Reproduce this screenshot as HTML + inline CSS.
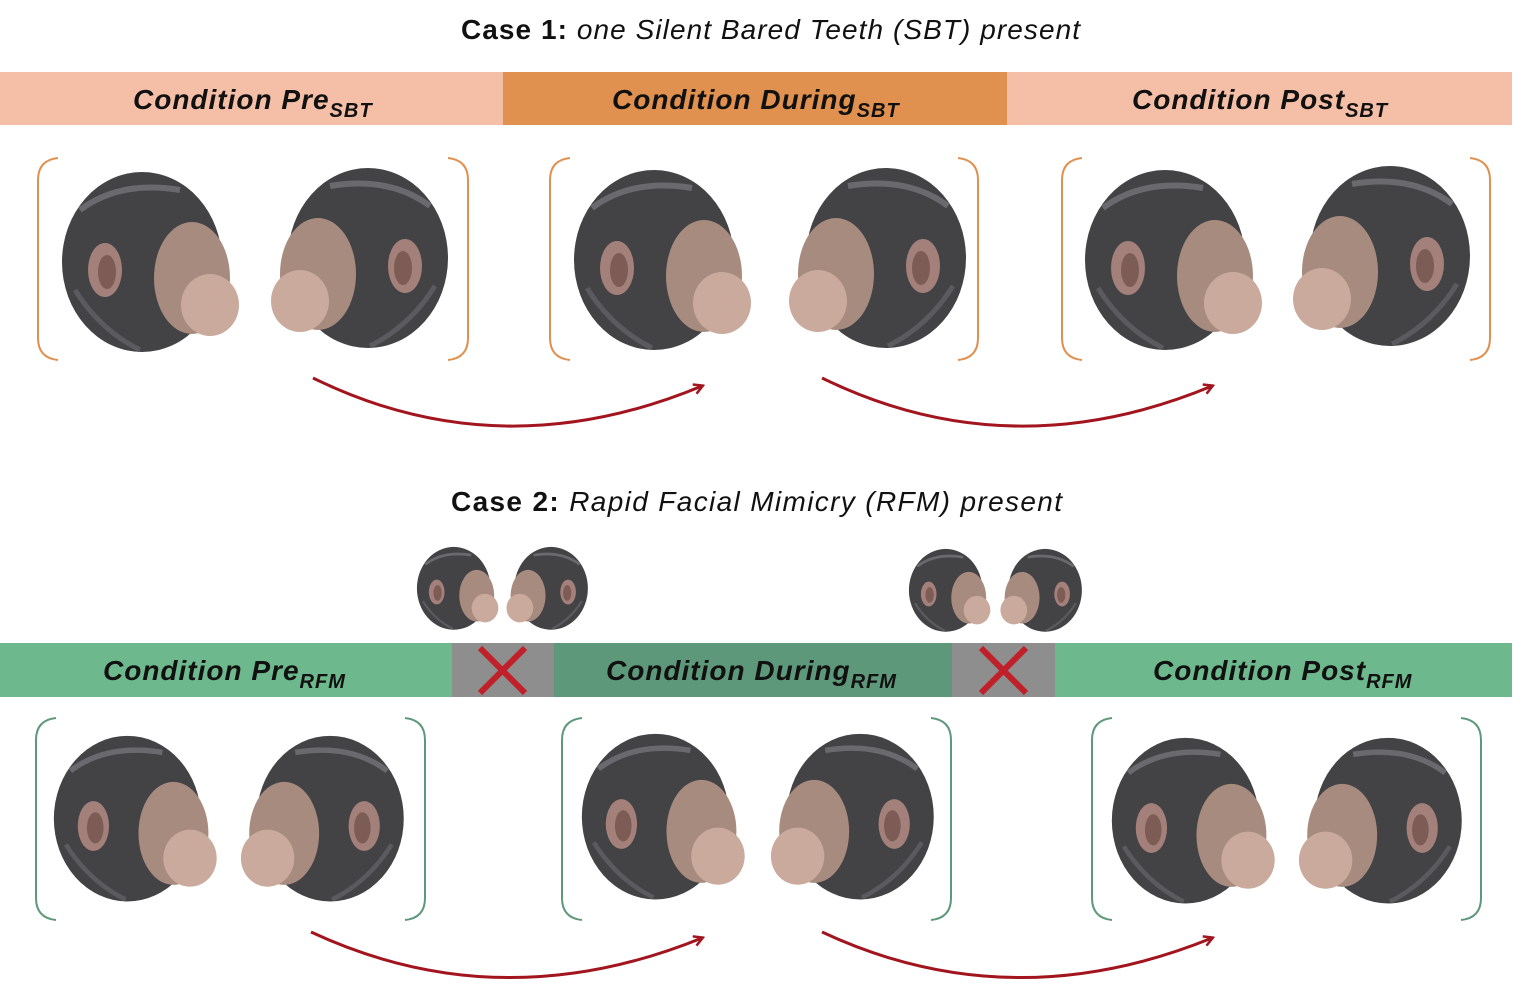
<!DOCTYPE html>
<html><head><meta charset="utf-8"><style>
html,body{margin:0;padding:0;background:#fff;}
svg{display:block;}
text{font-family:"Liberation Sans",sans-serif;}
</style></head><body>
<svg width="1513" height="1008" viewBox="0 0 1513 1008" xmlns="http://www.w3.org/2000/svg">
<defs>
<g id="hr">
<ellipse cx="82" cy="92" rx="80" ry="90" fill="#434346"/>
<path d="M20 40 Q60 10 120 20" stroke="#6a6a6e" stroke-width="6" fill="none"/>
<path d="M15 120 Q40 160 80 180" stroke="#5a5a5f" stroke-width="5" fill="none"/>
<ellipse cx="132" cy="108" rx="38" ry="56" fill="#a88b7f"/>
<ellipse cx="150" cy="135" rx="29" ry="31" fill="#c9aa9c"/>
<ellipse cx="45" cy="100" rx="17" ry="27" fill="#a3807a"/>
<ellipse cx="47" cy="102" rx="9" ry="17" fill="#7d5c56"/>
</g>
<g id="hl"><use href="#hr" transform="translate(180,0) scale(-1,1)"/></g>
<marker id="ar" markerWidth="12" markerHeight="12" refX="9" refY="6" orient="auto" markerUnits="userSpaceOnUse"><path d="M1 1 L10 6 L1 11" fill="none" stroke="#a3151e" stroke-width="2.5"/></marker>
</defs>

<text x="461" y="39" font-size="28" textLength="619" lengthAdjust="spacing" fill="#111"><tspan font-weight="bold">Case 1:</tspan><tspan font-style="italic"> one Silent Bared Teeth (SBT) present</tspan></text>
<rect x="0" y="72" width="503" height="53" fill="#f5bea7"/>
<rect x="503" y="72" width="504" height="53" fill="#e0904f"/>
<rect x="1007" y="72" width="505" height="53" fill="#f5bea7"/>
<g font-size="28" font-weight="bold" font-style="italic" fill="#111">
<text x="133" y="109" letter-spacing="1">Condition Pre<tspan font-size="20" dy="8">SBT</tspan></text>
<text x="612" y="109" letter-spacing="1">Condition During<tspan font-size="20" dy="8">SBT</tspan></text>
<text x="1132" y="109" letter-spacing="1">Condition Post<tspan font-size="20" dy="8">SBT</tspan></text>
</g>
<g fill="none" stroke="#e0904f" stroke-width="2">
<path d="M58 158 Q38 160 38 180 V338 Q38 358 58 360"/><path d="M448 158 Q468 160 468 180 V338 Q468 358 448 360"/>
<path d="M570 158 Q550 160 550 180 V338 Q550 358 570 360"/><path d="M958 158 Q978 160 978 180 V338 Q978 358 958 360"/>
<path d="M1082 158 Q1062 160 1062 180 V338 Q1062 358 1082 360"/><path d="M1470 158 Q1490 160 1490 180 V338 Q1490 358 1470 360"/>
</g>
<use href="#hr" x="60" y="170"/><use href="#hl" x="270" y="166"/>
<use href="#hr" x="572" y="168"/><use href="#hl" x="788" y="166"/>
<use href="#hr" x="1083" y="168"/><use href="#hl" x="1292" y="164"/>
<g fill="none" stroke="#a3151e" stroke-width="3" marker-end="url(#ar)">
<path d="M313 378 Q500 470 702 386"/><path d="M822 378 Q1010 470 1212 386"/>
<path d="M311 932 Q500 1020 702 938"/><path d="M822 932 Q1010 1020 1212 938"/>
</g>

<text x="451" y="511" font-size="28" textLength="611" lengthAdjust="spacing" fill="#111"><tspan font-weight="bold">Case 2:</tspan><tspan font-style="italic"> Rapid Facial Mimicry (RFM) present</tspan></text>
<use href="#hr" transform="translate(416,546) scale(0.46)"/><use href="#hl" transform="translate(506,546) scale(0.46)"/>
<use href="#hr" transform="translate(908,548) scale(0.46)"/><use href="#hl" transform="translate(1000,548) scale(0.46)"/>
<rect x="0" y="643" width="452" height="54" fill="#6db98d"/>
<rect x="452" y="643" width="102" height="54" fill="#8e8e8e"/>
<rect x="554" y="643" width="398" height="54" fill="#5e987a"/>
<rect x="952" y="643" width="103" height="54" fill="#8e8e8e"/>
<rect x="1055" y="643" width="457" height="54" fill="#6db98d"/>
<g stroke="#c0202a" stroke-width="6"><path d="M480 648 L525 693 M525 648 L480 693"/><path d="M981 648 L1026 693 M1026 648 L981 693"/></g>
<g font-size="28" font-weight="bold" font-style="italic" fill="#111">
<text x="103" y="680" letter-spacing="1">Condition Pre<tspan font-size="20" dy="8">RFM</tspan></text>
<text x="606" y="680" letter-spacing="1">Condition During<tspan font-size="20" dy="8">RFM</tspan></text>
<text x="1153" y="680" letter-spacing="1">Condition Post<tspan font-size="20" dy="8">RFM</tspan></text>
</g>
<g fill="none" stroke="#5e987a" stroke-width="2">
<path d="M56 718 Q36 720 36 740 V898 Q36 918 56 920"/><path d="M405 718 Q425 720 425 740 V898 Q425 918 405 920"/>
<path d="M582 718 Q562 720 562 740 V898 Q562 918 582 920"/><path d="M931 718 Q951 720 951 740 V898 Q951 918 931 920"/>
<path d="M1112 718 Q1092 720 1092 740 V898 Q1092 918 1112 920"/><path d="M1461 718 Q1481 720 1481 740 V898 Q1481 918 1461 920"/>
</g>
<use href="#hr" transform="translate(52,734) scale(0.92)"/><use href="#hl" transform="translate(240,734) scale(0.92)"/>
<use href="#hr" transform="translate(580,732) scale(0.92)"/><use href="#hl" transform="translate(770,732) scale(0.92)"/>
<use href="#hr" transform="translate(1110,736) scale(0.92)"/><use href="#hl" transform="translate(1298,736) scale(0.92)"/>
</svg>
</body></html>
